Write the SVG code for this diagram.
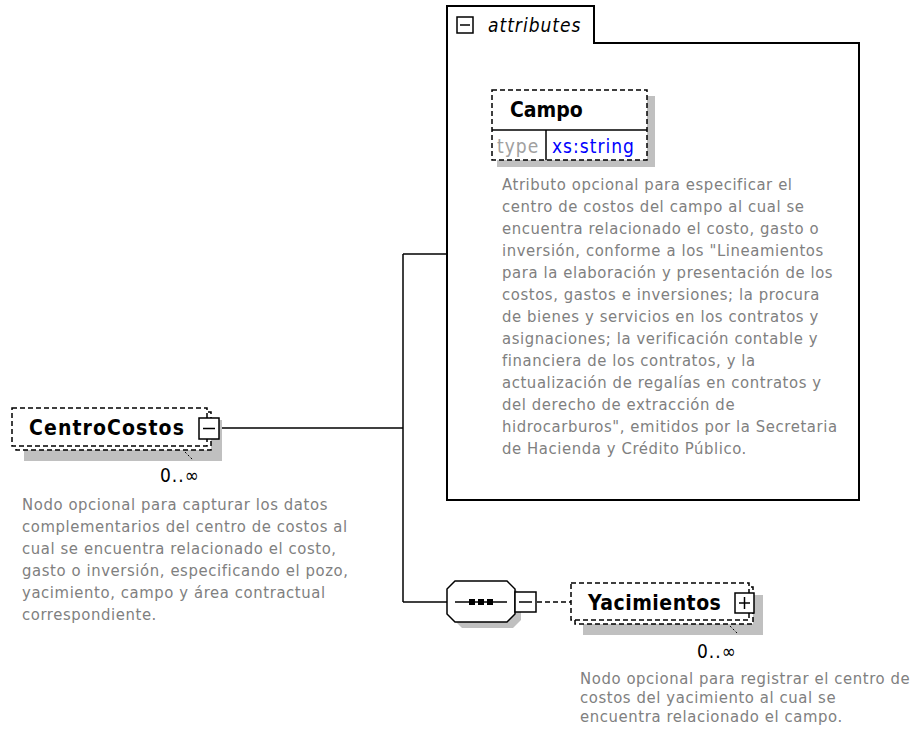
<svg xmlns="http://www.w3.org/2000/svg" width="915" height="736" viewBox="0 0 915 736">
<defs>
<style>
.doc{font-family:"DejaVu Sans Condensed","DejaVu Sans",sans-serif;font-size:16.5px;letter-spacing:0.6px;fill:#808080}
.title{font-family:"DejaVu Sans Condensed","DejaVu Sans",sans-serif;font-size:21px;font-weight:bold;fill:#000}
.card{font-family:"DejaVu Sans Condensed","DejaVu Sans",sans-serif;font-size:19px;letter-spacing:1px;fill:#000}
.dash{fill:#fff;stroke:#000;stroke-width:1.5;stroke-dasharray:5,3}
.shadow{fill:#c0c0c0}
.line{fill:none;stroke:#000;stroke-width:1.5}
.box{fill:#fff;stroke:#000;stroke-width:1.5}
</style>
</defs>
<rect width="915" height="736" fill="#fff"/>
<g id="connectors">
<line class="line" x1="220" y1="428" x2="403" y2="428"/>
<line class="line" x1="403" y1="254" x2="403" y2="602"/>
<line class="line" x1="403" y1="254" x2="447" y2="254"/>
<line class="line" x1="403" y1="602" x2="447" y2="602"/>
<line class="line" x1="537" y1="602" x2="571" y2="602" stroke-dasharray="5,3"/>
</g>
<g id="attributes">
<path d="M447,6 H594 V43 H859 V500 H447 Z" fill="#fff" stroke="#000" stroke-width="2"/>
<rect class="box" x="457" y="17" width="16" height="16"/>
<line class="line" x1="460" y1="25" x2="470" y2="25"/>
<text x="488" y="32" class="card" font-style="italic">attributes</text>
</g>
<g id="Campo">
<rect class="shadow" x="497" y="96" width="158" height="71"/>
<rect x="492" y="90" width="155" height="70" fill="#fff"/>
<line class="line" x1="492" y1="130" x2="647" y2="130"/>
<line class="line" x1="546" y1="130" x2="546" y2="160"/>
<rect x="492" y="90" width="155" height="70" fill="none" stroke="#000" stroke-width="1.5" stroke-dasharray="5,3"/>
<text x="510" y="117" class="title" font-size="19.5px">Campo</text>
<text x="497" y="153" class="card" style="fill:#a0a0a0">type</text>
<text x="552" y="153" class="card" style="fill:#0000ff">xs:string</text>
<text class="doc">
<tspan x="502" y="190">Atributo opcional para especificar el</tspan>
<tspan x="502" y="212">centro de costos del campo al cual se</tspan>
<tspan x="502" y="234">encuentra relacionado el costo, gasto o</tspan>
<tspan x="502" y="256">inversión, conforme a los "Lineamientos</tspan>
<tspan x="502" y="278">para la elaboración y presentación de los</tspan>
<tspan x="502" y="300">costos, gastos e inversiones; la procura</tspan>
<tspan x="502" y="322">de bienes y servicios en los contratos y</tspan>
<tspan x="502" y="344">asignaciones; la verificación contable y</tspan>
<tspan x="502" y="366">financiera de los contratos, y la</tspan>
<tspan x="502" y="388">actualización de regalías en contratos y</tspan>
<tspan x="502" y="410">del derecho de extracción de</tspan>
<tspan x="502" y="432">hidrocarburos", emitidos por la Secretaria</tspan>
<tspan x="502" y="454">de Hacienda y Crédito Público.</tspan>
</text>
</g>
<g id="CentroCostos">
<rect class="shadow" x="24" y="420" width="198" height="41"/>
<rect class="dash" x="16" y="412" width="195" height="38"/>
<rect class="dash" x="12" y="408" width="195" height="38"/>
<line x1="185" y1="452" x2="193" y2="460" stroke="#000" stroke-width="1" stroke-dasharray="2,2"/>
<text x="29" y="435" class="title" letter-spacing="1.1">CentroCostos</text>
<rect class="box" x="199" y="418" width="20" height="21"/>
<line class="line" x1="203" y1="428.5" x2="215" y2="428.5"/>
<text x="160" y="482" class="card" font-size="17px" letter-spacing="0">0..∞</text>
<text class="doc">
<tspan x="22" y="510">Nodo opcional para capturar los datos</tspan>
<tspan x="22" y="532">complementarios del centro de costos al</tspan>
<tspan x="22" y="554">cual se encuentra relacionado el costo,</tspan>
<tspan x="22" y="576">gasto o inversión, especificando el pozo,</tspan>
<tspan x="22" y="598">yacimiento, campo y área contractual</tspan>
<tspan x="22" y="620">correspondiente.</tspan>
</text>
</g>
<g id="sequence">
<path class="shadow" d="M462,587 H513 L521,595 V620 L513,628 H462 L454,620 V595 Z"/>
<path class="box" d="M455,581 H507 L515,589 V614 L507,622 H455 L447,614 V589 Z"/>
<line class="line" x1="455" y1="602" x2="507" y2="602"/>
<rect x="469" y="599" width="6" height="6" fill="#000"/>
<rect x="478" y="599" width="6" height="6" fill="#000"/>
<rect x="487" y="599" width="6" height="6" fill="#000"/>
<rect class="box" x="515" y="592" width="21" height="20"/>
<line class="line" x1="519" y1="602" x2="532" y2="602"/>
</g>
<g id="Yacimientos">
<rect class="shadow" x="583" y="595" width="180" height="40"/>
<rect class="dash" x="575" y="587" width="178" height="37"/>
<rect class="dash" x="571" y="583" width="178" height="37"/>
<line x1="730" y1="626" x2="737" y2="633" stroke="#000" stroke-width="1" stroke-dasharray="2,2"/>
<text x="588" y="610" class="title" font-size="20px" letter-spacing="0.5">Yacimientos</text>
<rect class="box" x="735" y="593" width="19" height="20"/>
<line class="line" x1="739" y1="603" x2="750" y2="603"/>
<line class="line" x1="744.5" y1="597" x2="744.5" y2="609"/>
<text x="697" y="658" class="card" font-size="17px" letter-spacing="0">0..∞</text>
<text class="doc">
<tspan x="580" y="684">Nodo opcional para registrar el centro de</tspan>
<tspan x="580" y="703">costos del yacimiento al cual se</tspan>
<tspan x="580" y="722">encuentra relacionado el campo.</tspan>
</text>
</g>
</svg>
